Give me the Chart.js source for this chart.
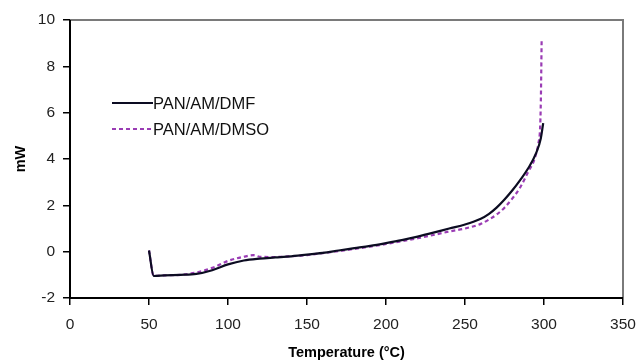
<!DOCTYPE html>
<html>
<head>
<meta charset="utf-8">
<script src="https://cdn.jsdelivr.net/npm/chart.js@4"></script>
<style>
html,body{margin:0;padding:0;background:#fff;}
#wrap{width:639px;height:362px;position:relative;}
</style>
</head>
<body>
<div id="wrap"><canvas id="c" width="639" height="362"></canvas></div>
<script>
const seriesNames = ["PAN/AM/DMF", "PAN/AM/DMSO"];
const dmfTemp = [50, 53, 60, 70, 80, 90, 100, 110, 120, 130, 140, 150, 160, 170, 180, 190, 200, 210, 220, 230, 240, 250, 260, 265, 270, 275, 280, 285, 290, 295, 298, 299.5];
const dmfPower = [0.05, -1.05, -1.02, -1.0, -0.96, -0.8, -0.55, -0.38, -0.3, -0.25, -0.2, -0.13, -0.05, 0.05, 0.15, 0.25, 0.37, 0.5, 0.65, 0.82, 1.0, 1.17, 1.42, 1.62, 1.9, 2.25, 2.65, 3.1, 3.6, 4.25, 4.9, 5.55];
const dmsoTemp = [50, 53, 60, 70, 80, 90, 100, 110, 116, 120, 130, 140, 150, 160, 170, 180, 190, 200, 210, 220, 230, 240, 250, 260, 265, 270, 275, 280, 285, 290, 294, 296.5, 297.5, 298, 298.5];
const dmsoPower = [0.05, -1.05, -1.02, -1.0, -0.9, -0.7, -0.4, -0.22, -0.15, -0.22, -0.23, -0.2, -0.15, -0.06, 0.02, 0.12, 0.22, 0.33, 0.45, 0.58, 0.72, 0.87, 1.0, 1.2, 1.38, 1.6, 1.9, 2.3, 2.78, 3.45, 4.0, 4.7, 5.3, 6.5, 9.1];
const xTicks = [0, 50, 100, 150, 200, 250, 300, 350];
const yTicks = [-2, 0, 2, 4, 6, 8, 10];

const toPts = (xs, ys) => xs.map((x, i) => ({x: x, y: ys[i]}));
const FONT = '"Liberation Sans", Arial, sans-serif';

const frame = {
  id: 'frame',
  afterDraw(chart) {
    const {ctx, chartArea: a} = chart;
    ctx.save();
    ctx.strokeStyle = '#7a7a7a';
    ctx.lineWidth = 2;
    ctx.beginPath();
    ctx.moveTo(a.left, a.top);
    ctx.lineTo(a.right, a.top);
    ctx.lineTo(a.right, a.bottom);
    ctx.stroke();
    ctx.strokeStyle = '#000';
    ctx.beginPath();
    ctx.moveTo(a.left, a.top);
    ctx.lineTo(a.left, a.bottom);
    ctx.lineTo(a.right, a.bottom);
    ctx.stroke();
    // legend, in series order
    const lx = 112, ly = [103, 129];
    ctx.font = '16.5px ' + FONT;
    ctx.textBaseline = 'middle';
    ctx.fillStyle = '#111';
    seriesNames.forEach((name, i) => {
      const d = chart.data.datasets.find(s => s.label === name);
      ctx.beginPath();
      ctx.strokeStyle = d.borderColor;
      ctx.lineWidth = d.borderWidth;
      ctx.setLineDash(d.borderDash || []);
      ctx.moveTo(lx, ly[i]);
      ctx.lineTo(lx + 41, ly[i]);
      ctx.stroke();
      ctx.setLineDash([]);
      ctx.fillText(d.label, lx + 41, ly[i] + 1);
    });
    ctx.restore();
  }
};

new Chart(document.getElementById('c'), {
  type: 'line',
  data: {
    datasets: [
      {label: seriesNames[0], data: toPts(dmfTemp, dmfPower), borderColor: '#0c0c22', borderWidth: 2.2, pointRadius: 0, tension: 0.3, cubicInterpolationMode: 'monotone', fill: false},
      {label: seriesNames[1], data: toPts(dmsoTemp, dmsoPower), borderColor: '#9a3cb4', borderWidth: 2.2, borderDash: [4, 3], pointRadius: 0, tension: 0.3, cubicInterpolationMode: 'monotone', fill: false}
    ]
  },
  options: {
    responsive: false,
    animation: false,
    layout: {padding: {left: 0, right: 16, top: 20, bottom: 0}},
    plugins: {legend: {display: false}, tooltip: {enabled: false}},
    scales: {
      x: {
        type: 'linear', min: 0, max: 350,
        afterBuildTicks: s => { s.ticks = xTicks.map(v => ({value: v})); },
        afterFit: s => { s.height = 64; s.paddingLeft = 0; s.paddingRight = 0; },
        grid: {drawOnChartArea: false, drawTicks: true, tickLength: 7, color: '#000', lineWidth: 1.5},
        border: {display: false},
        ticks: {color: '#222', font: {size: 15.5, family: FONT}, padding: 10, maxRotation: 0},
        title: {display: true, text: 'Temperature (°C)', color: '#000', font: {size: 14.5, weight: 'bold', family: FONT}, padding: {top: 0, bottom: 0}}
      },
      y: {
        type: 'linear', min: -2, max: 10,
        afterBuildTicks: s => { s.ticks = yTicks.map(v => ({value: v})); },
        afterFit: s => { s.width = 70; s.paddingTop = 0; s.paddingBottom = 0; },
        grid: {drawOnChartArea: false, drawTicks: true, tickLength: 7, color: '#000', lineWidth: 1.5},
        border: {display: false},
        ticks: {color: '#222', font: {size: 15.5, family: FONT}, padding: 8},
        title: {display: true, text: 'mW', color: '#000', font: {size: 14.5, weight: 'bold', family: FONT}, padding: {top: 12, bottom: 2}}
      }
    }
  },
  plugins: [frame]
});
</script>
</body>
</html>
